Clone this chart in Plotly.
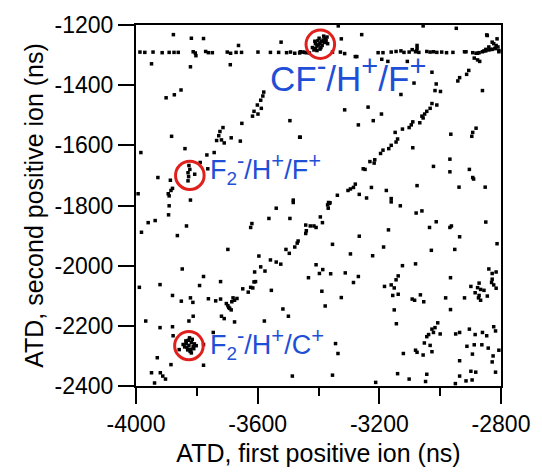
import plotly.graph_objects as go

# ---- data (ns) ----
band_x = [-3987,-3971,-3944,-3914,-3891,-3875,-3861,-3812,-3805,-3771,-3762,-3749,-3700,-3689,-3671,-3653,-3599,-3558,-3531,-3505,-3492,-3478,-3462,-3451,-3440,
          -3460,-3446,-3430,-3354,-3328,-3314,-3274,-3204,-3188,-3161,-3145,-3129,-3119,-3102,-3092,-3081,-3070,-3044,-3033,-3022,-3011,-2995,-2979,-2958,-2920,-2893,-2877,-2861,-2850,-2840,-2829,-2818,-2807,
          -2829,-2824,-2816,-2840,-2850,-2872,-2882,-2856,-2834,-2820,-2810,-2807,-2888,-2877,-2870,-2915,-3076,-3076,-3078,-2813,-2845]
band_y = [-1290,-1291,-1290,-1292,-1291,-1291,-1291,-1289,-1293,-1288,-1292,-1292,-1290,-1294,-1291,-1291,-1290,-1291,-1291,-1292,-1290,-1294,-1293,-1290,-1292,
          -1289,-1291,-1293,-1290,-1290,-1295,-1305,-1292,-1292,-1290,-1288,-1286,-1291,-1290,-1282,-1289,-1291,-1288,-1290,-1289,-1291,-1290,-1292,-1291,-1289,-1292,-1294,-1289,-1286,-1283,-1281,-1278,-1285,
          -1257,-1262,-1268,-1273,-1281,-1292,-1294,-1286,-1281,-1278,-1273,-1289,-1310,-1316,-1321,-1289,-1268,-1278,-1286,-1246,-1235]

cf_cluster_x = [-3395,-3385,-3405,-3378,-3410,-3390,-3400,-3372,-3415,-3388,-3402,-3380,-3410,-3392,-3375,-3398,-3420,-3383,-3405,-3370,-3395,-3412,-3335,-3325]
cf_cluster_y = [-1261,-1250,-1270,-1245,-1278,-1255,-1266,-1240,-1283,-1268,-1252,-1258,-1262,-1275,-1252,-1244,-1275,-1237,-1285,-1262,-1280,-1254,-1203,-1246]

f2f_cluster_x = [-3826,-3823,-3829,-3827,-3829,-3807]
f2f_cluster_y = [-1667,-1680,-1691,-1704,-1718,-1696]

f2c_cluster_x = [-3826,-3818,-3832,-3820,-3835,-3812,-3828,-3840,-3822,-3815,-3808,-3830,-3845,-3824,-3810,-3836,-3818,-3802]
f2c_cluster_y = [-2265,-2255,-2272,-2278,-2258,-2268,-2248,-2270,-2285,-2245,-2260,-2280,-2262,-2240,-2276,-2250,-2290,-2266]

diag_x = [-3580,-3583,-3590,-3601,-3588,-3612,-3617,-3599,-3652,-3714,-3724,-3728,-3735,-3719,-3710,-3687,-3657,-3743,-3767,
          -3011,-3027,-3033,-3044,-3051,-3056,-3060,-3067,-3090,-3095,-3102,-3124,-3148,-3140,-3145,-3161,-3169,-3188,-3196,-3215,-3217,-3231,-3247,-3253,
          -3649,-3631,-3623,-3616,-3612,-3607,-3610,-3590,-3576,-3596,-3558,-3539,-3524,-3507,-3496,-3478,-3470,-3467,-3442,-3440,-3442,-3427,-3415,-3408,
          -3703,-3698,-3692,-3687,-3695,-3685,-3676,-3668,-3681]
diag_y = [-1423,-1436,-1450,-1466,-1477,-1487,-1503,-1496,-1527,-1541,-1554,-1568,-1584,-1582,-1592,-1575,-1586,-1624,-1632,
          -1466,-1461,-1477,-1487,-1496,-1509,-1503,-1525,-1522,-1532,-1541,-1546,-1557,-1579,-1589,-1600,-1611,-1616,-1627,-1648,-1659,-1654,-1680,-1678,
          -2077,-2088,-2072,-2074,-2054,-2053,-2021,-2004,-2018,-1968,-1981,-1988,-1995,-1946,-1959,-1938,-1925,-1918,-1893,-1884,-1865,-1868,-1868,-1873,
          -2126,-2133,-2142,-2147,-2139,-2120,-2115,-2109,-2107]

scatter_x = [-3877,-3818,-3778,-3663,-3523,-3949,-3803,-3690,-3821,-3901,-3874,-3852,-3494,-3462,-3883,-3984,-3839,-3789,-3764,-3928,-3887,-3894,-3891,-3885,-3880,-3993,-3821,-3483,
             -3258,-3056,-2947,-2847,-3192,-3108,-3279,-3172,-3027,-2906,-2913,-2936,-2942,-3086,-3013,-3017,-2999,-3129,-2861,-3314,-3193,-3220,-3269,-3237,
             -3460,-2965,-2893,-2882,-2896,-3090,-2968,-3022,-2968,-2904,-2893,-2890,-3076,-2938,-2852,-3279,-3285,-3295,-3303,-3226,-3338,-3177,-3161,-3161,-3242,-3365,
             -3891,-3893,-3982,-3960,-3937,-3834,-3864,-3698,-3848,-3989,-3921,-3778,-3791,-3722,-3880,-3851,-3821,-3813,-3762,-3738,-3722,
             -3719,-3710,-3676,-3812,-3826,-3968,-3921,-3880,-3878,-3746,-3858,-3778,-3778,-3930,-3885,-3949,-3939,-3920,-3912,-3903,-3486,
             -3555,-3517,-3499,-3578,-3539,-3563,-3619,-3623,-3494,-3483,-3433,
             -3266,-3131,-3079,-3060,-3035,-3013,-2968,-2963,-2936,-2850,-2813,-2952,-3029,-3367,-3370,-3362,-3368,-3394,-3387,
             -3354,-3266,-3170,-3186,-3222,-3295,-3408,-3397,-3386,-3360,-3312,-3269,-3285,-3325,-3389,-3378,
             -3124,-3138,-3145,-3161,-3151,-3183,-3156,-3138,-3081,-3151,-3144,-3092,-3084,-3065,-3054,-2966,-2982,-2966,-2920,
             -2840,-2829,-2816,-2831,-2824,-2816,-2872,-2877,-2867,-2856,-2872,-2867,-2845,-2899,-2885,-2874,-2829,
             -3008,-3017,-3027,-3022,-3038,-3044,-3000,-3052,-3033,-3027,-3056,-3076,-3081,-3121,
             -2936,-2949,-2904,-2885,-2861,-2847,-2824,-2818,-2912,-2888,-2863,-2842,-2894,-2826,-2829,-2807,
             -2936,-2899,-2883,-2818,-2936,-2915,-3140,-3102,-3212,-3044,-3344,-3336,-3354,-3048,-2950,-2895]
scatter_y = [-1232,-1244,-1245,-1268,-1257,-1329,-1302,-1332,-1339,-1442,-1432,-1416,-1518,-1573,-1570,-1624,-1611,-1657,-1678,-1707,-1716,-1761,-1768,-1750,-1743,-1761,-1782,-1782,
             -1232,-1203,-1211,-1233,-1314,-1321,-1305,-1321,-1357,-1351,-1364,-1375,-1386,-1393,-1396,-1418,-1421,-1431,-1418,-1482,-1496,-1518,-1532,-1473,
             -1573,-1563,-1557,-1543,-1570,-1608,-1646,-1670,-1688,-1680,-1707,-1712,-1734,-1739,-1739,-1729,-1740,-1745,-1750,-1740,-1766,-1750,-1777,-1788,-1775,-1793,
             -1801,-1831,-1889,-1857,-1850,-1868,-1900,-1946,-2011,-2072,-2063,-2036,-2066,-2053,-2099,-2118,-2107,-2122,-2110,-2117,-2111,
             -2168,-2176,-2187,-2168,-2184,-2184,-2206,-2203,-2233,-2222,-2279,-2262,-2331,-2306,-2329,-2356,-2390,-2356,-2367,-2377,-2367,
             -2082,-2144,-2168,-2184,-1809,-1843,-1860,-1873,-1843,-1790,-2040,
             -1763,-1801,-1825,-1818,-1873,-1854,-1873,-1868,-1904,-1855,-1927,-1946,-1949,-1790,-1798,-1791,-1809,-1838,-1857,
             -1929,-1902,-1881,-1938,-1967,-1961,-1997,-2026,-2013,-2027,-2024,-2036,-2056,-2106,-2085,-2134,
             -2000,-2034,-2047,-2064,-2074,-2069,-2099,-2095,-1994,-2147,-2193,-2111,-2115,-2097,-2120,-2040,-2107,-2146,-2107,
             -2011,-2026,-2021,-2056,-2064,-2075,-2058,-2073,-2079,-2082,-2099,-2115,-2101,-2069,-2090,-2107,-2045,
             -2190,-2206,-2211,-2222,-2229,-2236,-2227,-2257,-2265,-2286,-2297,-2288,-2281,-2292,
             -2222,-2227,-2211,-2229,-2222,-2233,-2203,-2217,-2268,-2263,-2263,-2274,-2294,-2300,-2320,-2281,
             -2316,-2351,-2354,-2354,-2367,-2383,-2359,-2377,-2388,-2361,-2259,-2292,-2364,-2385,-2392,-2380]

# tick values and labels (plain hyphen minus, as in the reference)
x_tickvals = [-4000, -3600, -3200, -2800]
x_ticktext = ["-4000", "-3600", "-3200", "-2800"]
y_tickvals = [-2400, -2200, -2000, -1800, -1600, -1400, -1200]
y_ticktext = ["-2400", "-2200", "-2000", "-1800", "-1600", "-1400", "-1200"]

# annotation circles (centre x, centre y) and labels
circle_cx = [-3394, -3823, -3826]
circle_cy = [-1264, -1700, -2266]
circle_r = 47
label_parts = [("CF", "-", "H", "+", "F", "+"),
               ("F<sub>2</sub>", "-", "H", "+", "F", "+"),
               ("F<sub>2</sub>", "-", "H", "+", "C", "+")]
label_x = [-3565, -3762, -3762]
label_y = [-1362, -1676, -2258]
label_size = [35, 27, 27]

all_x = band_x + cf_cluster_x + f2f_cluster_x + f2c_cluster_x + diag_x + scatter_x
all_y = band_y + cf_cluster_y + f2f_cluster_y + f2c_cluster_y + diag_y + scatter_y

FONT = "Liberation Sans, Arial, sans-serif"


def label_html(parts, size):
    a, s1, b, s2, c, s3 = parts
    sp = round(size * 0.82)
    sup = lambda t: f"<sup><span style='font-size:{sp}px'>{t}</span></sup>"
    return f"{a}{sup(s1)}/{b}{sup(s2)}/{c}{sup(s3)}"


fig = go.Figure()
fig.add_trace(go.Scatter(x=all_x, y=all_y, mode="markers",
                         marker=dict(symbol="square", size=3.5, color="black", line=dict(width=0)),
                         showlegend=False, hoverinfo="skip"))

shapes = []
for cx, cy in zip(circle_cx, circle_cy):
    shapes.append(dict(type="circle", xref="x", yref="y",
                       x0=cx - circle_r, x1=cx + circle_r, y0=cy - circle_r, y1=cy + circle_r,
                       line=dict(color="#e0201c", width=3)))

annots = []
for p, x, y, s in zip(label_parts, label_x, label_y, label_size):
    annots.append(dict(text=label_html(p, s), x=x, y=y, xref="x", yref="y", showarrow=False,
                       xanchor="left", yanchor="middle",
                       font=dict(family=FONT, size=s, color="#1f4fd6")))

axis_common = dict(showline=True, linecolor="black", linewidth=2, mirror=True,
                   ticks="outside", ticklen=16, tickwidth=2, tickcolor="black",
                   showgrid=False, zeroline=False,
                   tickfont=dict(family=FONT, size=23, color="black"),
                   title_font=dict(family=FONT, size=25, color="black"))

fig.update_layout(
    width=542, height=475,
    margin=dict(l=136, r=33, t=14, b=88),
    paper_bgcolor="white", plot_bgcolor="white",
    shapes=shapes, annotations=annots,
    xaxis=dict(range=[-4000, -2800], tickvals=x_tickvals, ticktext=x_ticktext,
               minor=dict(dtick=200, tick0=-4000, ticklen=8, tickwidth=2, ticks="outside", tickcolor="black"),
               title=dict(text="ATD, first positive ion (ns)", standoff=9), **axis_common),
    yaxis=dict(range=[-2400, -1200], tickvals=y_tickvals, ticktext=y_ticktext,
               title=dict(text="ATD, second positive ion (ns)", standoff=4), **axis_common),
)

fig.write_html("out.html")
